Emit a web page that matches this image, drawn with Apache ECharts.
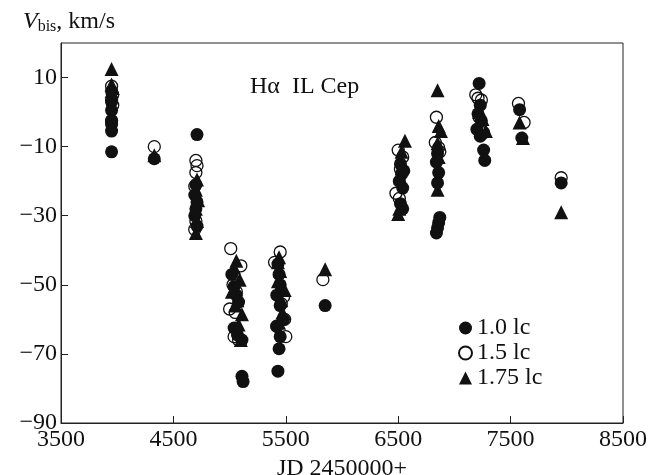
<!DOCTYPE html>
<html><head><meta charset="utf-8">
<script src="https://cdn.jsdelivr.net/npm/echarts@6/dist/echarts.min.js"></script>
<style>html,body{margin:0;padding:0;background:#fff}#c{width:650px;height:475px}</style>
</head><body><div id="c"></div>
<script>
const xTicks = [3500, 4500, 5500, 6500, 7500, 8500];
const yTicks = [-90, -70, -50, -30, -10, 10];
const seriesNames = ['1.0 lc', '1.5 lc', '1.75 lc'];

const filled = [
  [3950, 6], [3950, 3], [3950, 0.5], [3950, -2.5], [3950, -3.5], [3950, -5.5], [3950, -11.5],
  [4330, -13.5],
  [4710, -6.5], [4700, -21], [4690, -24], [4710, -26], [4700, -28], [4690, -30], [4710, -33],
  [5020, -47], [5040, -50.5], [5060, -53], [5080, -55], [5040, -62.5], [5070, -64.5], [5110, -66], [5110, -76.5], [5120, -78],
  [5430, -44], [5440, -47], [5450, -50], [5420, -53], [5450, -56], [5480, -60], [5420, -62], [5450, -65], [5440, -68.5], [5430, -75],
  [5850, -56],
  [6520, -15], [6530, -18], [6510, -20], [6540, -22], [6550, -17], [6520, -26.5], [6540, -28],
  [6850, -12], [6840, -14.5], [6860, -17.5], [6850, -20.5], [6870, -30.5], [6860, -32], [6850, -33.5], [6840, -35],
  [7220, 8.3], [7230, 2], [7210, -0.5], [7240, -2.5], [7200, -5], [7230, -7], [7260, -11], [7270, -14],
  [7580, 0.7], [7600, -7.5],
  [7950, -20.5]
];
const open = [
  [3950, 7.5], [3960, 5], [3950, 3.5], [3960, 2], [3950, -2.5],
  [4330, -10],
  [4700, -14], [4710, -15.5], [4700, -17.5], [4690, -21.5], [4700, -31.5], [4690, -34],
  [5010, -39.5], [5100, -44.5], [5030, -50], [5060, -52], [5000, -57], [5050, -58], [5040, -65], [5080, -66],
  [5450, -40.5], [5400, -43.5], [5480, -53.5], [5460, -55.5], [5490, -60], [5420, -62], [5500, -65],
  [5830, -48.5],
  [6500, -11], [6540, -13], [6520, -16.5], [6480, -23.5], [6510, -25],
  [6840, -1.5], [6830, -8.8], [6860, -10.3], [6870, -11.5],
  [7190, 5], [7210, 4], [7240, 3.5], [7220, -1.5], [7260, -6],
  [7570, 2.5], [7620, -3],
  [7950, -19]
];
const tri = [
  [3950, 12.5], [3950, 8], [3960, 7], [3950, 6],
  [4330, -12.5],
  [4710, -19.5], [4700, -22.5], [4720, -25.5], [4700, -28], [4710, -31.5], [4700, -35],
  [5060, -43], [5040, -45], [5090, -48.5], [5020, -52], [5070, -54.5], [5050, -56], [5110, -58.5], [5080, -61.5], [5100, -66],
  [5440, -42], [5430, -43.5], [5450, -46], [5430, -49], [5490, -51.5], [5460, -54.5], [5470, -58], [5440, -61],
  [5850, -45.5],
  [6560, -8.3], [6530, -11.5], [6540, -15], [6520, -19], [6510, -28], [6500, -29.5],
  [6850, 6.3], [6860, -4], [6880, -5.5], [6850, -9], [6860, -13], [6850, -22.5],
  [7220, 0], [7250, -2], [7280, -5.5],
  [7580, -3], [7610, -7.5],
  [7950, -29]
];

const FONT = 'Liberation Serif';
const FS = 24;
const chart = echarts.init(document.getElementById('c'), null, {renderer: 'canvas'});
chart.setOption({
  animation: false,
  backgroundColor: '#fff',
  textStyle: {fontFamily: FONT, color: '#111'},
  grid: {left: 61, right: 27, top: 43, bottom: 52, show: true, borderColor: '#222', borderWidth: 1,
    backgroundColor: 'transparent', containLabel: false, outerBoundsMode: 'none'},
  title: {
    text: '{v|V}{s|bis}{n|, km/s}', left: 18, top: 4,
    textStyle: {fontWeight: 'normal', rich: {
      v: {fontFamily: FONT, fontStyle: 'italic', fontWeight: 'normal', fontSize: FS, color: '#111'},
      s: {fontFamily: FONT, fontWeight: 'normal', fontSize: 16, color: '#111', padding: [10, 0, 0, 0]},
      n: {fontFamily: FONT, fontWeight: 'normal', fontSize: FS, color: '#111'}
    }}
  },
  legend: {
    orient: 'vertical', left: 453, top: 311, itemGap: 1, itemWidth: 13, itemHeight: 13,
    textStyle: {fontFamily: FONT, fontSize: FS, color: '#111', lineHeight: 22, padding: [0, 0, 0, 0]},
    data: seriesNames
  },
  graphic: [{type: 'text', left: 250, top: 75, style: {text: 'H\u03b1  IL Cep', font: FS + 'px "Liberation Serif"', fill: '#111'}}],
  xAxis: {
    type: 'value', min: 3500, max: 8500,
    name: 'JD 2450000+', nameLocation: 'middle', nameGap: 26,
    nameTextStyle: {fontFamily: FONT, fontSize: FS, color: '#111'},
    axisLine: {onZero: false, lineStyle: {color: '#222'}},
    axisTick: {inside: true, length: 7, customValues: xTicks, lineStyle: {color: '#222'}},
    axisLabel: {customValues: xTicks, fontFamily: FONT, fontSize: FS, color: '#111', margin: 5,
      formatter: v => String(v)},
    splitLine: {show: false}
  },
  yAxis: {
    type: 'value', min: -90, max: 20,
    axisLine: {show: true, onZero: false, lineStyle: {color: '#222'}},
    axisTick: {show: true, inside: true, length: 7, customValues: yTicks, lineStyle: {color: '#222'}},
    axisLabel: {customValues: yTicks, fontFamily: FONT, fontSize: FS, color: '#111', margin: 4,
      formatter: v => (v < 0 ? '\u2212' + Math.abs(v) : String(v))},
    splitLine: {show: false}
  },
  series: [
    {name: seriesNames[0], type: 'scatter', symbol: 'circle', symbolSize: 13, data: filled,
      itemStyle: {color: '#111', opacity: 1}},
    {name: seriesNames[1], type: 'scatter', symbol: 'circle', symbolSize: 12, data: open,
      itemStyle: {color: 'rgba(255,255,255,0)', borderColor: '#111', borderWidth: 1.3, opacity: 1}},
    {name: seriesNames[2], type: 'scatter', symbol: 'triangle', symbolSize: 14, data: tri,
      itemStyle: {color: '#111', opacity: 1}}
  ]
});
</script></body></html>
